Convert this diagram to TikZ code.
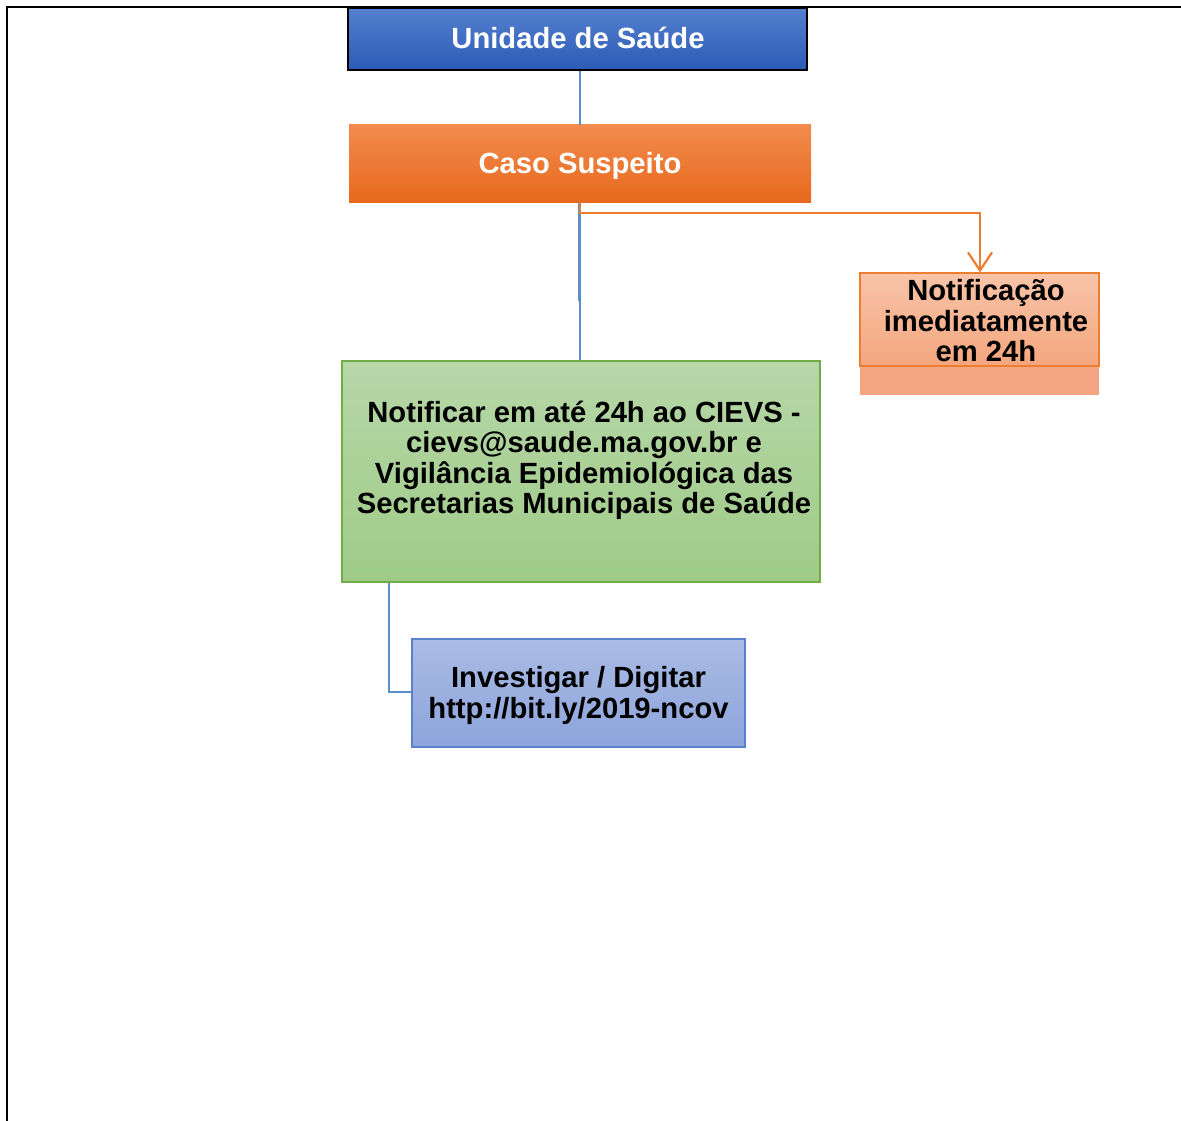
\documentclass[tikz,border=0pt]{standalone}
\usepackage{fontspec}
\setmainfont{Liberation Sans}
\usetikzlibrary{arrows.meta}
\definecolor{blueT}{HTML}{5580D0}
\definecolor{blueB}{HTML}{2C5BB5}
\definecolor{orT}{HTML}{F28B4E}
\definecolor{orB}{HTML}{E7691D}
\definecolor{orLine}{HTML}{ED7D31}
\definecolor{salT}{HTML}{F8C4A8}
\definecolor{salB}{HTML}{F4A67E}
\definecolor{salLow}{HTML}{F4A582}
\definecolor{grT}{HTML}{B6D7A8}
\definecolor{grB}{HTML}{9FCB87}
\definecolor{grLine}{HTML}{70AD47}
\definecolor{lbT}{HTML}{AABCE5}
\definecolor{lbB}{HTML}{8DA4DB}
\definecolor{lbLine}{HTML}{5B80CC}
\definecolor{conn}{HTML}{5B8FC7}
\tikzset{
  boxbase/.style={rectangle, inner sep=0pt, align=center, font=\fontsize{29.2}{30.5}\selectfont\bfseries},
  txt/.style={inner sep=0pt, align=center, font=\fontsize{29.2}{30.5}\selectfont\bfseries},
  bluecon/.style={draw=conn, line width=2.4pt},
  orcon/.style={draw=orLine, line width=2.6pt},
}
\begin{document}
\begin{tikzpicture}[x=1pt,y=-1pt]
\useasboundingbox (0,0) rectangle (1181,1121);
% frame
\draw[line width=2pt] (7,1121) -- (7,7) -- (1181,7);
% boxes
\node[boxbase, top color=blueT, bottom color=blueB, draw=black, line width=1.2pt,
      minimum width=459pt, minimum height=62pt] (us) at (577.5,39) {};
\node[txt, text=white] (ust) at (578,38) {Unidade de Saúde};
\node[boxbase, top color=orT, bottom color=orB,
      minimum width=462pt, minimum height=77pt] (cs) at (580,163.5) {};
\node[txt, text=white] (cst) at (580,166) {Caso Suspeito};
\fill[salLow] (860,366) rectangle (1099,395);
\node[boxbase, top color=salT, bottom color=salB, draw=orLine, line width=1.2pt,
      minimum width=239pt, minimum height=93pt] (nt) at (979.5,319.5) {};
\node[txt] (ntt) at (986,321) {Notificação\\imediatamente\\em 24h};
\node[boxbase, top color=grT, bottom color=grB, draw=grLine, line width=1.2pt,
      minimum width=478pt, minimum height=221pt] (gr) at (581,471.5) {};
\node[txt] (grt) at (584,460.5) {Notificar em até 24h ao CIEVS -\\cievs@saude.ma.gov.br e\\Vigilância Epidemiológica das\\Secretarias Municipais de Saúde};
\node[boxbase, top color=lbT, bottom color=lbB, draw=lbLine, line width=1.2pt,
      minimum width=333pt, minimum height=108pt] (inv) at (578.5,693) {};
\node[txt] (invt) at (578.5,695.5) {Investigar / Digitar\\http://bit.ly/2019-ncov};
% connectors
\draw[bluecon] (us.south -| 580,0) -- (cs.north -| 580,0);
\coordinate (tk) at (580,300);
\draw[bluecon] (cs.south -| 579.5,0) -- (579.5,300) -- (tk) -- (gr.north -| 580,0);
\draw[orcon, -{Straight Barb[length=18pt,width=24pt,line width=2.2pt]}]
  (cs.south -| 580,0) -- (580,213) -- (980,213) -- (nt.north -| 980,0);
\coordinate (gi) at (389,692);
\draw[bluecon] (gr.south -| 389,0) -- (gi) -- (inv.west |- gi);
\end{tikzpicture}
\end{document}
